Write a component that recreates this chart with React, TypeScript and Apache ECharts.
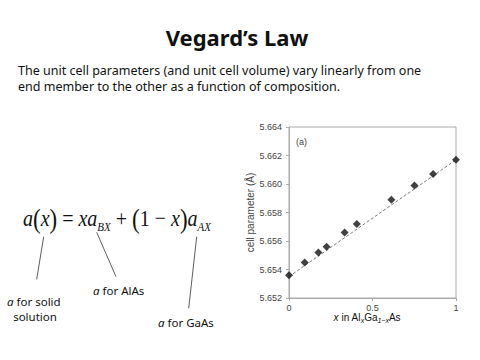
import React, { useEffect, useRef } from "react";
import * as echarts from "echarts";

// Data
const compositionX = [0, 0.094, 0.176, 0.225, 0.333, 0.406, 0.613, 0.751, 0.863, 1.0];
const cellParameter = [5.6536, 5.6545, 5.6552, 5.6556, 5.6566, 5.6572, 5.6589, 5.6599, 5.6607, 5.6617];
const fitX = [0, 1];
const fitY = [5.6535, 5.6617];
const yTicks = [5.652, 5.654, 5.656, 5.658, 5.66, 5.662, 5.664];
const xTicks = [0, 0.5, 1];

const titleText = "Vegard\u2019s Law";
const paraLines = [
  "The unit cell parameters (and unit cell volume) vary linearly from one",
  "end member to the other as a function of composition.",
];

const SLIDE_FONT = "'Noto Sans', 'Open Sans', sans-serif";
const SERIF = "'Liberation Serif', 'DejaVu Serif', serif";
const CHART_FONT = "'Liberation Sans', Arial, sans-serif";

export default function App() {
  const ref = useRef<HTMLDivElement>(null);
  useEffect(() => {
    if (!ref.current) return;
    const chart = echarts.init(ref.current, undefined, { renderer: "svg" });
    const eqRich = {
      i: { fontFamily: SERIF, fontStyle: "italic", fontSize: 20, lineHeight: 26, color: "#111" },
      r: { fontFamily: SERIF, fontSize: 20, lineHeight: 26, color: "#111" },
      p: { fontFamily: SERIF, fontSize: 23, lineHeight: 26, color: "#111" },
      s: { fontFamily: SERIF, fontStyle: "italic", fontSize: 11, lineHeight: 11, verticalAlign: "bottom", color: "#111" },
    };
    const labRich = {
      i: { fontFamily: SLIDE_FONT, fontStyle: "italic", fontSize: 11.5, color: "#111" },
      n: { fontFamily: SLIDE_FONT, fontSize: 11.5, color: "#111" },
    };
    const txt = (x: number, y: number, text: string, extra: any = {}) => ({
      type: "text",
      x,
      y,
      silent: true,
      style: {
        text,
        x: 0,
        y: 0,
        fill: "#111",
        align: "left",
        textAlign: "left",
        verticalAlign: "middle",
        textVerticalAlign: "middle",
        ...extra,
      },
    });
    const ln = (x1: number, y1: number, x2: number, y2: number) => ({
      type: "line",
      silent: true,
      shape: { x1, y1, x2, y2 },
      style: { stroke: "#333", lineWidth: 0.8 },
    });

    chart.setOption({
      animation: false,
      backgroundColor: "#fff",
      textStyle: { fontFamily: CHART_FONT },
      grid: {
        left: 289,
        top: 127,
        width: 167,
        height: 171,
        show: true,
        borderColor: "#aaa",
        borderWidth: 1,
        backgroundColor: "transparent",
      },
      xAxis: {
        type: "value",
        min: xTicks[0],
        max: xTicks[xTicks.length - 1],
        interval: xTicks[1] - xTicks[0],
        axisLine: { show: true, onZero: false, lineStyle: { color: "#aaa", width: 1 } },
        axisTick: { show: true, length: 3, lineStyle: { color: "#aaa" } },
        splitLine: { show: false },
        axisLabel: { color: "#444", fontSize: 9, margin: 5, fontFamily: CHART_FONT },
      },
      yAxis: {
        type: "value",
        min: yTicks[0],
        max: yTicks[yTicks.length - 1],
        interval: 0.002,
        axisLine: { show: true, lineStyle: { color: "#aaa", width: 1 } },
        axisTick: { show: true, length: 3, lineStyle: { color: "#aaa" } },
        splitLine: { show: false },
        axisLabel: {
          color: "#444",
          fontSize: 9,
          margin: 7,
          fontFamily: CHART_FONT,
          formatter: (v: number) => v.toFixed(3),
        },
        name: "cell parameter (\u00c5)",
        nameLocation: "middle",
        nameGap: 31,
        nameTextStyle: { color: "#444", fontSize: 10, fontFamily: CHART_FONT },
      },
      series: [
        {
          type: "line",
          data: fitX.map((x, i) => [x, fitY[i]]),
          symbol: "none",
          lineStyle: { color: "#555", width: 0.8, type: [3, 2] },
          silent: true,
          z: 1,
        },
        {
          type: "scatter",
          data: compositionX.map((x, i) => [x, cellParameter[i]]),
          symbol: "diamond",
          symbolSize: 8,
          itemStyle: { color: "#111" },
          z: 2,
        },
      ],
      graphic: [
        txt(237, 37, titleText, {
          font: `bold 22px ${SLIDE_FONT}`,
          align: "center",
          textAlign: "center",
        }),
        txt(18, 70, paraLines[0], { font: `12.5px ${SLIDE_FONT}` }),
        txt(18, 86, paraLines[1], { font: `12.5px ${SLIDE_FONT}` }),
        {
          ...txt(23, 218, "{i|a}{p|(}{i|x}{p|)}{r| = }{i|xa}{s|BX}{r| + }{p|(}{r|1 \u2212 }{i|x}{p|)}{i|a}{s|AX}", {
            rich: eqRich,
          }),
          scaleY: 1.2,
        },
        ln(43.7, 236.7, 36.7, 279.3),
        ln(96.7, 232.3, 116, 276.7),
        ln(196.7, 236.7, 188.7, 308.3),
        txt(7, 301, "{i|a}{n| for solid}", { rich: labRich }),
        txt(35, 316, "solution", { rich: labRich, font: `11.5px ${SLIDE_FONT}`, align: "center", textAlign: "center" }),
        txt(93, 290, "{i|a}{n| for AlAs}", { rich: labRich }),
        txt(158, 322, "{i|a}{n| for GaAs}", { rich: labRich }),
        txt(296, 142, "(a)", { font: `9px ${CHART_FONT}`, fill: "#444" }),
        txt(367, 317, "{i|x}{n| in Al}{s|x}{n|Ga}{s|1\u2212x}{n|As}", {
          align: "center",
          textAlign: "center",
          rich: {
            i: { fontFamily: CHART_FONT, fontStyle: "italic", fontSize: 10, lineHeight: 14, color: "#444" },
            n: { fontFamily: CHART_FONT, fontSize: 10, lineHeight: 14, color: "#444" },
            s: { fontFamily: CHART_FONT, fontStyle: "italic", fontSize: 7, lineHeight: 7, verticalAlign: "bottom", color: "#444" },
          },
        }),
      ],
    });
    return () => chart.dispose();
  }, []);
  return (
    <div
      ref={ref}
      style={{ position: "fixed", left: 0, top: 0, width: 480, height: 360, background: "#fff" }}
    />
  );
}
